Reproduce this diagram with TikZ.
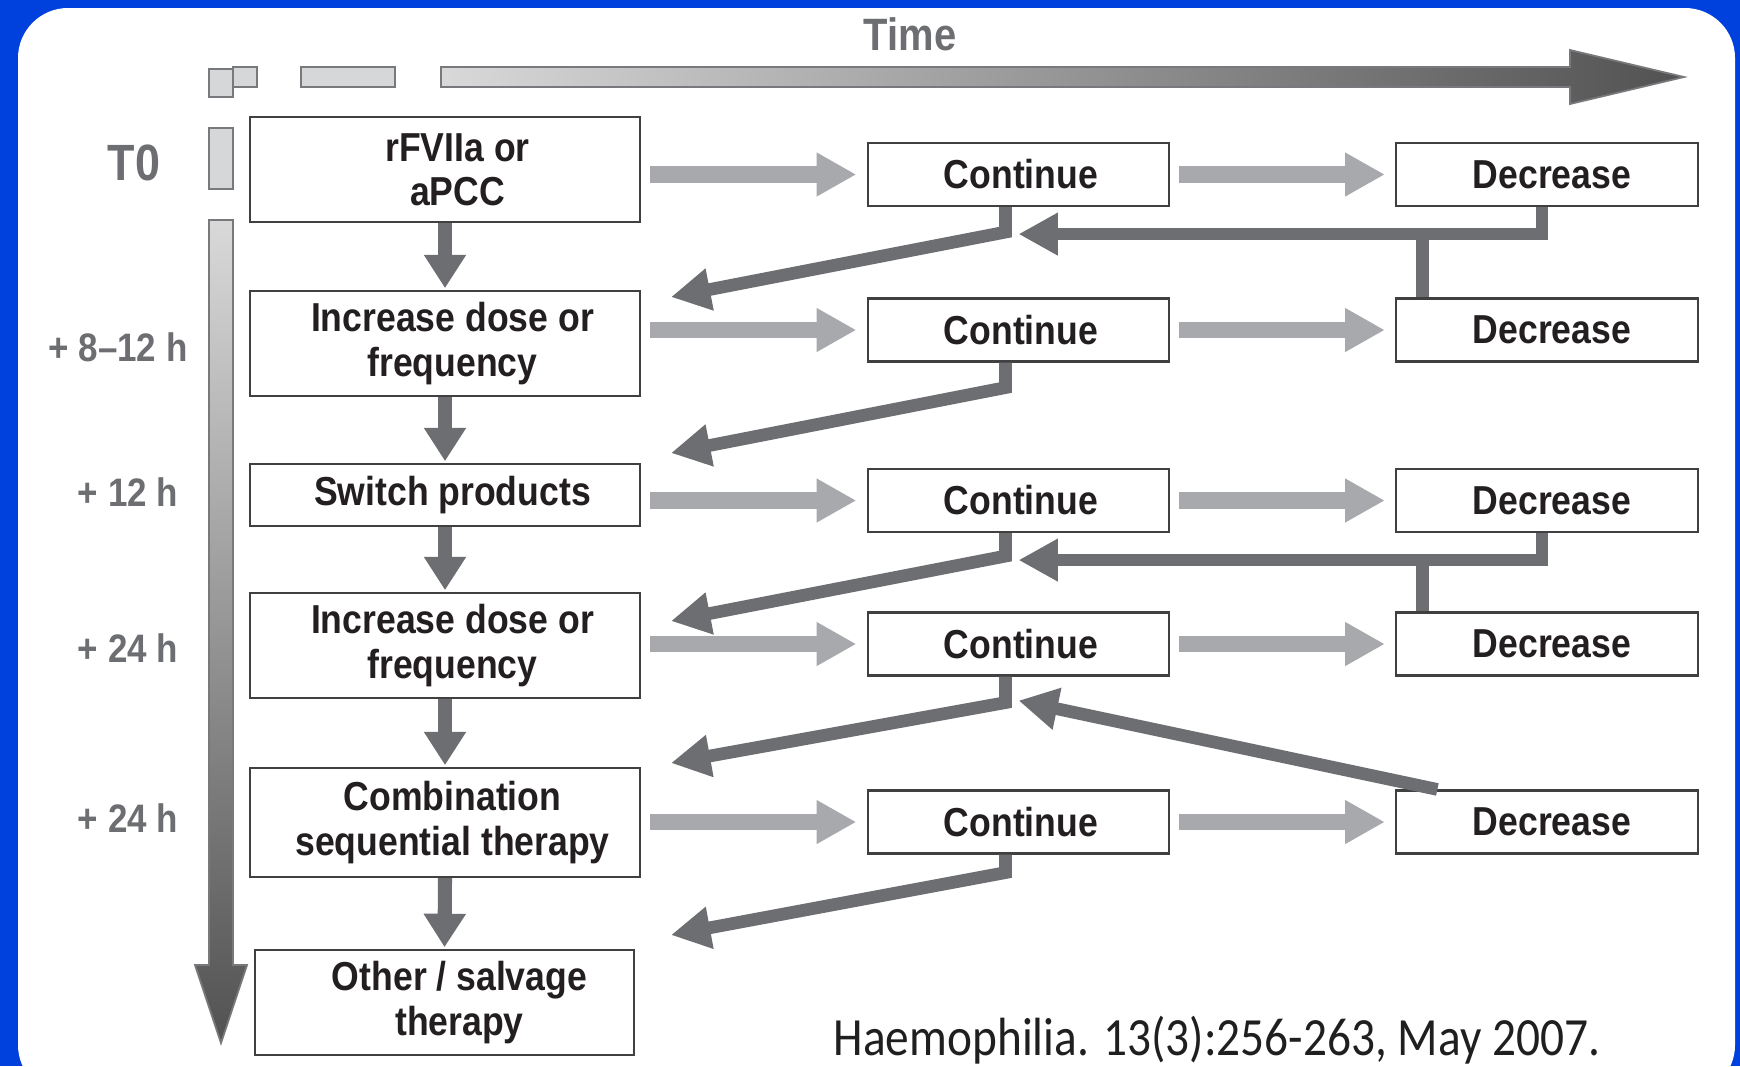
\documentclass[tikz,border=0pt]{standalone}
\usepackage{fontspec}
\usepackage{xcolor}
\usepackage{tikz}
\usetikzlibrary{arrows.meta,positioning,calc}

\newfontfamily\figfont{Liberation Sans}[FakeStretch=0.88]
\newfontfamily\citefont{Carlito}[FakeStretch=0.88]
\newcommand{\boxfont}{\figfont\bfseries\fontsize{11.5}{12.6}\selectfont}
\newcommand{\labfont}{\figfont\bfseries\fontsize{11.3}{13}\selectfont}

\definecolor{bgblue}{RGB}{0,64,221}
\definecolor{lightgr}{RGB}{167,169,172}
\definecolor{darkgr}{RGB}{109,110,113}
\definecolor{tlfill}{RGB}{214,215,216}
\definecolor{tledge}{RGB}{120,121,124}
\definecolor{boxtext}{RGB}{35,31,32}

\tikzset{
  tbox/.style={draw=black!75, line width=0.6pt, fill=white, minimum width=3.9cm,
    align=center, font=\boxfont, text=boxtext, inner sep=2pt},
  sbox/.style={tbox, minimum width=3.01cm, minimum height=0.63cm},
  lab/.style={text=darkgr, font=\labfont},
  lightarr/.style={draw=lightgr, line width=4.8pt, shorten <=2.6pt, shorten >=3pt,
    -{Triangle[length=11.3pt,width=11.7pt]}},
  downarr/.style={draw=darkgr, line width=4pt, shorten >=0.5pt,
    -{Triangle[length=9.5pt,width=11.4pt]}},
  darkarr/.style={draw=darkgr, line width=3.6pt, line join=miter,
    -{Triangle[length=11.2pt,width=11.4pt]}},
  darkline/.style={draw=darkgr, line width=3.6pt},
  tlbar/.style={fill=tlfill, draw=tledge, line width=0.5pt}
}

\begin{document}
\begin{tikzpicture}[x=0.01cm,y=-0.01cm]
  \useasboundingbox (0,0) rectangle (1740,1066);
  \fill[bgblue] (0,0) rectangle (1740,1066);
  \fill[white,rounded corners=0.5cm] (18,8) rectangle (1735,1095);

  % time axes
  \node[lab, font=\figfont\bfseries\fontsize{12.9}{14}\selectfont] (time) at (910,34) {Time};
  \filldraw[tlbar] (209,69) rectangle (233,97);
  \filldraw[tlbar] (233,67) rectangle (257,87);
  \filldraw[tlbar] (301,67) rectangle (395,87);
  \shadedraw[draw=tledge, line width=0.5pt, left color=black!15, middle color=black!22, right color=black!68]
    (441,67) -- (1570,67) -- (1570,50) -- (1684,77) -- (1570,104) -- (1570,87) -- (441,87) -- cycle;
  \filldraw[tlbar] (209,128) rectangle (233,189);
  \shadedraw[draw=tledge, line width=0.5pt, top color=black!15, middle color=black!35, bottom color=black!68]
    (209,220) -- (233,220) -- (233,965) -- (247,965) -- (221,1043) -- (195,965) -- (209,965) -- cycle;

  \node[lab, font=\figfont\bfseries\fontsize{14.5}{16}\selectfont] (t0) at (134,163) {T0};
  \node[lab] (h8) at (118,347) {+ 8–12 h};
  \node[lab] (h12) at (128,492) {+ 12 h};
  \node[lab] (h24a) at (128,648) {+ 24 h};
  \node[lab] (h24b) at (128,818) {+ 24 h};

  % treatment steps
  \node[tbox, minimum height=1.05cm] (s1) at (445,169.5) {\hspace*{0.25cm}rFVIIa or\\\hspace*{0.25cm}aPCC};
  \node[tbox, minimum height=1.05cm] (s2) at (445,343.5) {\hspace*{0.15cm}Increase dose or\\\hspace*{0.15cm}frequency};
  \node[tbox, minimum height=0.62cm] (s3) at (445,495) {\hspace*{0.15cm}Switch products};
  \node[tbox, minimum height=1.05cm] (s4) at (445,645.5) {\hspace*{0.15cm}Increase dose or\\\hspace*{0.15cm}frequency};
  \node[tbox, minimum height=1.09cm] (s5) at (445,822.5) {\hspace*{0.15cm}Combination\\\hspace*{0.15cm}sequential therapy};
  \node[tbox, minimum height=1.05cm, minimum width=3.79cm] (s6) at (444.5,1002.5) {\hspace*{0.3cm}Other / salvage\\\hspace*{0.3cm}therapy};

  \foreach \a/\b in {1/2,2/3,3/4,4/5,5/6}{
    \draw[downarr] (s\a.south) -- (s\b.north);
  }

  \foreach \i/\y in {1/174.5,2/330,3/500.5,4/644,5/822}{
    \node[sbox] (c\i) at (1018.5,\y) {\hspace*{0.05cm}Continue};
    \node[sbox] (d\i) at (1547,\y) {\hspace*{0.1cm}Decrease};
    \draw[lightarr] (s\i.east |- c\i.west) -- (c\i.west);
    \draw[lightarr] (c\i.east) -- (d\i.west);
  }

  % back to the next step
  \foreach \i/\dy/\ty in {1/25/297,2/25/453,3/23/621,4/26/763,5/18/935}{
    \coordinate (t\i) at (671,\ty);
    \draw[darkarr] ($(c\i.south)+(-13,0)$) -- ++(0,\dy) -- (t\i);
  }

  % back from decrease
  \foreach \a/\b in {1/2,3/4}{
    \coordinate (j\a) at ($(c\a.south)+(0,27)$);
    \draw[darkarr] ($(d\a.south)+(-5,0)$) |- (j\a);
    \draw[darkline] ($(d\b.north west)+(27,0)$) coordinate (k\a) -- (k\a |- j\a);
  }
  \coordinate (j5) at ($(c4.south)+(0,24)$);
  \draw[darkarr] ($(d5.north west)+(42,0)$) -- (j5);

  \node[font=\citefont\fontsize{15.3}{17}\selectfont, text=black!88] (cite) at (1217,1040)
    {Haemophilia. 13(3):256-263, May 2007.};
\end{tikzpicture}
\end{document}
